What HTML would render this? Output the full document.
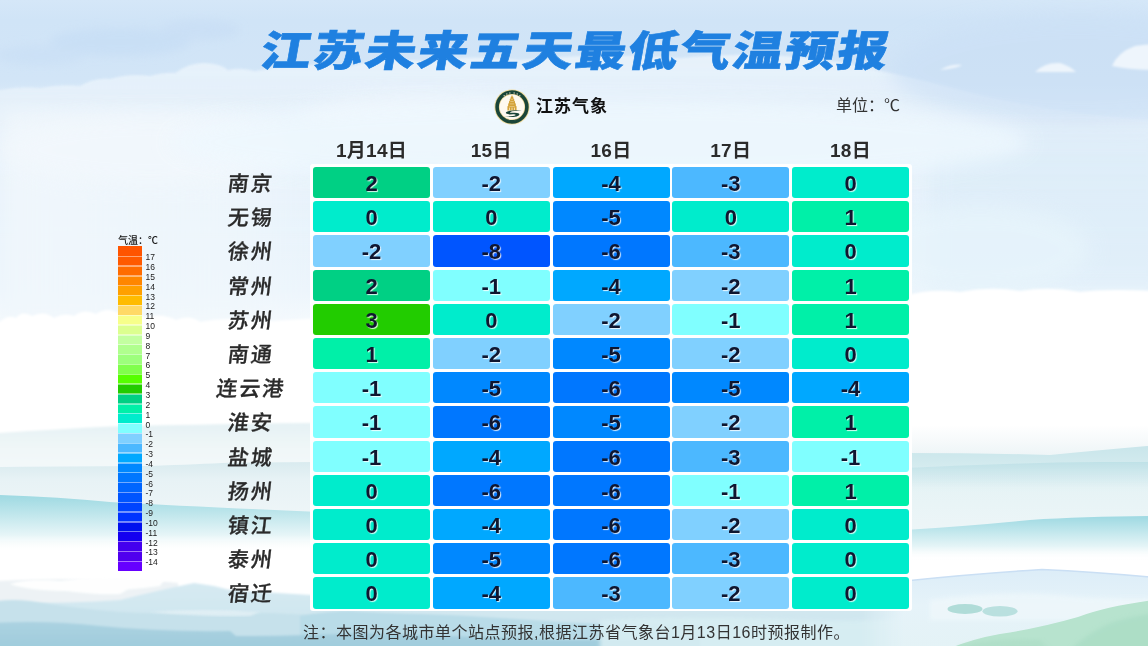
<!DOCTYPE html><html lang="zh"><head><meta charset="utf-8"><title>江苏未来五天最低气温预报</title><style>
*{margin:0;padding:0;box-sizing:border-box}
html,body{width:1148px;height:646px;overflow:hidden}
body{position:relative;font-family:"Liberation Sans","Noto Sans CJK SC",sans-serif;background:#e6f2fb}
#bg{position:absolute;left:0;top:0;width:1148px;height:646px}
.t{position:absolute;white-space:nowrap}
#title{left:260.5px;top:22px;font-family:"Liberation Sans","Noto Sans CJK SC",sans-serif;font-weight:900;font-size:42px;line-height:60px;color:#1f80e0;letter-spacing:1.7px;transform:skewX(-10deg) scaleX(1.2);transform-origin:0 50%;-webkit-text-stroke:0.6px #1f80e0}
#brand{left:536px;top:95px;font-family:"Liberation Sans","Noto Sans CJK SC",sans-serif;font-weight:700;font-size:17px;line-height:24px;color:#111;letter-spacing:1px}
#unit{left:836px;top:95px;font-family:"Liberation Sans","Noto Sans CJK SC",sans-serif;font-size:16px;line-height:22px;color:#333}
.hd{position:absolute;top:138px;width:117px;text-align:center;font-family:"Liberation Sans","Noto Sans CJK SC",sans-serif;font-weight:700;font-size:19px;line-height:26px;color:#2b2b2b;letter-spacing:0.3px}
.city{position:absolute;left:200px;width:100px;text-align:center;font-family:"Liberation Sans","Noto Sans CJK SC",sans-serif;font-weight:500;font-size:21px;line-height:31px;color:#2a2a2a;letter-spacing:2px;text-indent:2px;transform:skewX(-7deg);-webkit-text-stroke:0.3px #2a2a2a}
#panel{position:absolute;left:310px;top:164px;width:602px;height:447px;background:#fff;border-radius:3px}
.c{position:absolute;width:117px;height:31.3px;border-radius:3px;text-align:center;font-family:"Liberation Sans","Noto Sans CJK SC",sans-serif;font-weight:700;font-size:22px;line-height:34px;color:#0f1630;text-shadow:1px 1px 1px rgba(255,255,255,.85)}
.lb{position:absolute;left:118px;width:24px}
.ls{position:absolute;left:118px;width:24px;height:1.4px;background:rgba(255,255,255,.45)}
.ll{position:absolute;left:145.5px;font-family:"Liberation Sans","Noto Sans CJK SC",sans-serif;font-size:8.5px;line-height:10px;color:#222}
#legt{left:118px;top:233.5px;font-family:"Liberation Sans","Noto Sans CJK SC",sans-serif;font-size:10px;line-height:14px;color:#111;font-weight:500}
#note{left:303px;top:620.5px;font-family:"Liberation Sans","Noto Sans CJK SC",sans-serif;font-size:16px;line-height:24px;color:#333;letter-spacing:0.5px}
</style></head><body>
<div id="bg"><svg width="1148" height="646" viewBox="0 0 1148 646" style="position:absolute;left:0;top:0">
<defs>
<linearGradient id="sky" x1="0" y1="0" x2="0" y2="646" gradientUnits="userSpaceOnUse">
<stop offset="0.0000" stop-color="#d5e7f8"/>
<stop offset="0.0310" stop-color="#d0e4f7"/>
<stop offset="0.1238" stop-color="#d2e5f7"/>
<stop offset="0.1703" stop-color="#dcebf9"/>
<stop offset="0.2477" stop-color="#e2effa"/>
<stop offset="0.3560" stop-color="#e7f2fb"/>
<stop offset="0.4489" stop-color="#ecf5fc"/>
<stop offset="0.5108" stop-color="#f8fbfd"/>
<stop offset="0.5573" stop-color="#ffffff"/>
<stop offset="1.0000" stop-color="#ffffff"/>
</linearGradient>
<linearGradient id="cl1" x1="0" y1="0" x2="0" y2="1">
<stop offset="0" stop-color="#e8f2fb"/>
<stop offset="0.5" stop-color="#eaf3fb" stop-opacity="0.6"/>
<stop offset="1" stop-color="#eef6fc" stop-opacity="0"/>
</linearGradient>
<linearGradient id="leftL" x1="0" y1="0" x2="1" y2="0">
<stop offset="0" stop-color="#f0f7fc" stop-opacity="0.9"/>
<stop offset="0.7" stop-color="#f0f7fc" stop-opacity="0.7"/>
<stop offset="1" stop-color="#f0f7fc" stop-opacity="0"/>
</linearGradient>
<linearGradient id="tealA" x1="0" y1="0" x2="0" y2="1">
<stop offset="0" stop-color="#b9dfe5"/>
<stop offset="0.35" stop-color="#cde8ec"/>
<stop offset="1" stop-color="#ffffff" stop-opacity="0"/>
</linearGradient>
<linearGradient id="tealB" x1="0" y1="0" x2="0" y2="1">
<stop offset="0" stop-color="#9ed9e2"/>
<stop offset="0.3" stop-color="#bce5eb"/>
<stop offset="0.7" stop-color="#e6f5f7"/>
<stop offset="1" stop-color="#ffffff" stop-opacity="0"/>
</linearGradient>
<linearGradient id="mistA" x1="0" y1="0" x2="0" y2="1">
<stop offset="0" stop-color="#e5f1f4"/>
<stop offset="0.5" stop-color="#f0f7f8"/>
<stop offset="1" stop-color="#f4f9fa"/>
</linearGradient>
<linearGradient id="mistB" x1="0" y1="0" x2="0" y2="1">
<stop offset="0" stop-color="#d9ebef"/>
<stop offset="0.3" stop-color="#e7f2f5"/>
<stop offset="1" stop-color="#eff6f8"/>
</linearGradient>
<linearGradient id="fadeG" x1="0" y1="0" x2="0" y2="1">
<stop offset="0" stop-color="#eef5f7" stop-opacity="0"/>
<stop offset="1" stop-color="#eef5f7"/>
</linearGradient>
<linearGradient id="band1" x1="0" y1="0" x2="0" y2="1">
<stop offset="0" stop-color="#c8e5ea"/>
<stop offset="0.2" stop-color="#d2eaee"/>
<stop offset="0.45" stop-color="#e6f3f5"/>
<stop offset="1" stop-color="#eef6f8"/>
</linearGradient>
<linearGradient id="band1b" x1="0" y1="0" x2="0" y2="1">
<stop offset="0" stop-color="#bfe1e7"/>
<stop offset="1" stop-color="#d8edf1" stop-opacity="0"/>
</linearGradient>
<linearGradient id="tealF" x1="0" y1="0" x2="0" y2="1">
<stop offset="0" stop-color="#d3e9ee"/>
<stop offset="1" stop-color="#ffffff" stop-opacity="0"/>
</linearGradient>
<linearGradient id="mtnL" x1="0" y1="0" x2="0" y2="1">
<stop offset="0" stop-color="#d6eaf2"/>
<stop offset="1" stop-color="#c8e2ec"/>
</linearGradient>
<linearGradient id="mtnD" x1="0" y1="0" x2="0" y2="1">
<stop offset="0" stop-color="#abd2e1"/>
<stop offset="1" stop-color="#9bc9da"/>
</linearGradient>
<linearGradient id="br" x1="0" y1="0" x2="0" y2="1">
<stop offset="0" stop-color="#dcedf8"/>
<stop offset="0.4" stop-color="#e6f3f9"/>
<stop offset="1" stop-color="#e3f2f5"/>
</linearGradient>
<filter id="b05" x="-10%" y="-10%" width="120%" height="120%"><feGaussianBlur stdDeviation="0.5"/></filter>
<filter id="b1" x="-10%" y="-10%" width="120%" height="120%"><feGaussianBlur stdDeviation="1"/></filter>
<filter id="b2" x="-10%" y="-10%" width="120%" height="120%"><feGaussianBlur stdDeviation="2"/></filter>
<filter id="b5" x="-20%" y="-20%" width="140%" height="140%"><feGaussianBlur stdDeviation="5"/></filter>
<filter id="b10" x="-20%" y="-50%" width="140%" height="200%"><feGaussianBlur stdDeviation="10"/></filter>
<linearGradient id="mRg" x1="860" y1="0" x2="905" y2="0" gradientUnits="userSpaceOnUse">
<stop offset="0" stop-color="#fff" stop-opacity="0"/>
<stop offset="1" stop-color="#fff" stop-opacity="1"/>
</linearGradient>
<mask id="mR" maskUnits="userSpaceOnUse" x="0" y="0" width="1200" height="700"><rect x="0" y="0" width="1200" height="700" fill="url(#mRg)"/></mask>
</defs>
<rect width="1148" height="646" fill="url(#sky)"/>
<!-- upper cloud layer (lighter) -->
<g filter="url(#b5)" opacity="0.55">
<ellipse cx="120" cy="42" rx="70" ry="14" fill="#c3dbf4"/>
<ellipse cx="40" cy="55" rx="45" ry="10" fill="#c8def5"/>
<ellipse cx="200" cy="30" rx="40" ry="10" fill="#c6dcf4"/>
</g>
<path d="M-20 92 L0 90 Q20 86 40 88 Q60 84 80 86 Q95 77 110 79 Q130 73 150 76 Q165 72 175 73 Q190 62 205 63 Q222 64 228 70 Q240 67 255 71 Q300 62 350 66 Q390 56 430 62 Q470 54 520 60 Q600 52 680 58 Q760 50 840 62 Q900 74 960 90 Q1040 112 1170 122 L1170 260 L-20 260Z" fill="url(#cl1)" filter="url(#b1)" opacity="0.95"/>
<ellipse cx="1080" cy="70" rx="190" ry="55" fill="#cadff5" opacity="0.6" filter="url(#b10)"/>
<rect x="930" y="130" width="240" height="160" fill="#d9ebf8" opacity="0.55" filter="url(#b10)"/>
<rect x="0" y="110" width="330" height="215" fill="url(#leftL)" filter="url(#b10)"/>
<g filter="url(#b10)" fill="#f3f8fd" opacity="0.7">
<ellipse cx="150" cy="150" rx="150" ry="35"/>
<ellipse cx="420" cy="120" rx="120" ry="25"/>
</g>
<ellipse cx="600" cy="142" rx="430" ry="42" fill="#eef8fe" opacity="0.85" filter="url(#b10)"/>
<ellipse cx="980" cy="250" rx="110" ry="45" fill="#e8f5fc" opacity="0.7" filter="url(#b10)"/>
<!-- small clouds top right -->
<g fill="#eef5fc" filter="url(#b1)">
<path d="M1035 72 Q1045 62 1060 63 Q1070 66 1076 72Z"/>
<path d="M1112 66 Q1118 52 1135 46 Q1145 44 1160 44 L1160 70 Q1130 70 1112 66Z"/>
<path d="M940 70 Q950 64 962 65 Q958 68 940 70Z"/>
</g>
<!-- white cloud band -->
<g fill="#ffffff" filter="url(#b1)">
<path d="M-20 322 L0 322 Q8 314 16 318 Q22 310 32 316 Q44 310 54 318 Q64 312 74 316 Q84 308 96 314 Q108 306 120 314 Q134 310 146 318 Q160 312 176 320 Q190 314 200 322 Q230 316 260 322 L320 318 L320 430 L-20 430Z"/>
<path d="M905 296 Q930 288 960 292 Q990 286 1020 291 Q1050 286 1080 292 Q1110 288 1170 292 L1170 440 L905 440Z"/>
</g>
<!-- left mist bands -->
<path d="M-20 433 L0 433 Q60 429 110 426.5 Q200 424 320 423 L320 475 L-20 475Z" fill="url(#mistA)" filter="url(#b1)"/>
<path d="M-20 467 L0 467 Q100 466 150 466 Q200 464 230 462.7 L320 462 L320 520 L-20 520Z" fill="url(#mistB)" filter="url(#b05)"/>
<path d="M-20 495 L0 495 Q60 497 110 502 Q200 507 320 512 L320 552 L-20 552Z" fill="url(#tealB)" filter="url(#b05)"/>
<!-- right mist bands -->
<rect x="905" y="425" width="265" height="30" fill="url(#fadeG)"/>
<path d="M905 453 Q980 453 1050 455 Q1100 450 1170 444 L1170 540 L905 540Z" fill="url(#band1)" filter="url(#b05)"/>
<path d="M905 468 Q1000 463 1100 462 L1170 462 L1170 492 L905 492Z" fill="url(#band1b)" filter="url(#b05)"/>
<path d="M905 530 Q970 526 1030 520 Q1090 516 1170 516 L1170 560 L905 560Z" fill="url(#tealB)" filter="url(#b05)"/>
<!-- bottom left: cloud layer and mountains -->
<path d="M-20 582 Q40 578 100 580 Q140 579 178 583 L178 612 L-20 612Z" fill="#edf2f5" filter="url(#b1)"/>
<path d="M-20 603 Q60 604 120 600 Q160 590 194 583 Q212 585 228 589.6 Q270 593 310 595 Q420 598 560 602 Q700 606 905 602 L905 660 L-20 660Z" fill="url(#mtnL)" filter="url(#b1)"/>
<path d="M-20 604 Q5 598 30 601 Q70 608 120 612 Q170 615 230 613 Q260 612 290 614 L330 616 L330 660 L-20 660Z" fill="#c6e1eb" filter="url(#b1)"/>
<path d="M300 616 Q330 611 350 611 Q380 613 420 614 Q480 616 560 622 Q640 626 700 625 L700 660 L300 660Z" fill="#b9dce8" filter="url(#b1)"/>
<path d="M-20 624 Q40 619 100 626 Q160 632 230 631 L236 636 Q300 636 360 633 Q450 636 560 640 Q640 640 700 636 L700 660 L-20 660Z" fill="url(#mtnD)" filter="url(#b1)"/>
<path d="M600 620 Q700 615 800 620 Q860 622 905 618 L905 660 L600 660Z" fill="#d8eef3" filter="url(#b2)" opacity="0.9"/>
<!-- white cloud wisps over left mountains -->
<g fill="#ffffff" filter="url(#b1)" opacity="0.95">
<path d="M10 584 Q30 578 60 581 Q90 576 120 579 Q140 575 165 579 L160 586 Q120 592 70 591 Q30 591 10 584Z"/>
<path d="M60 590 Q90 586 130 588 L120 594 Q90 595 60 590Z"/>
</g>
<g fill="#e4f1f6" opacity="0.8" filter="url(#b1)">
<path d="M150 612 Q200 608 260 612 L250 616 Q200 617 150 612Z"/>
</g>
<g mask="url(#mR)">
<!-- bottom right light blue + green -->
<path d="M840 592 L905 581 Q970 574 1042 569.5 Q1100 572 1170 579 L1170 660 L840 660Z" fill="url(#br)" stroke="#cadff4" stroke-width="1.5" filter="url(#b05)"/>
<path d="M930 600 Q1000 590 1060 595 Q1100 600 1170 598 L1170 620 L930 620Z" fill="#f2f9fc" opacity="0.6" filter="url(#b2)"/>
<path d="M925 660 Q960 641 1000 634 Q1040 628 1078 617 Q1110 605 1170 598 L1170 660Z" fill="#b7e3ce" filter="url(#b05)"/>
<path d="M1060 660 Q1090 628 1120 620 Q1140 614 1170 612 L1170 660Z" fill="#a9dcc4" opacity="0.7" filter="url(#b2)"/>
<path d="M960 646 Q1000 638 1040 640 L1060 660 L950 660Z" fill="#a8dac2" opacity="0.5" filter="url(#b2)"/>
<ellipse cx="965" cy="609" rx="17.5" ry="5" fill="#b0dcd8"/>
<ellipse cx="1000" cy="611.3" rx="17.5" ry="5.3" fill="#b4dedb" opacity="0.9"/>
</g>
</svg>
</div>
<div class="t" id="title">江苏未来五天最低气温预报</div>
<svg style="position:absolute;left:494px;top:88.5px" width="36" height="36" viewBox="0 0 36 36">
<circle cx="18" cy="18" r="17.6" fill="#f1dc9e"/>
<circle cx="18" cy="18" r="16.7" fill="#1a4538"/>
<circle cx="18" cy="18" r="13.1" fill="#e6cd86"/>
<circle cx="18" cy="18" r="12.5" fill="#fffaf0"/>
<g transform="translate(18 0) scale(0.88 1) translate(-18 0)"><path fill="#d4a33a" d="M18 5.6 L18.6 7.6 L19.4 7.8 L19.6 9.6 L20.5 9.9 L20.6 11.9 L21.4 12.2 L21.5 14.3 L22.3 14.6 L22.4 16.9 L23.2 17.3 L23.2 21.6 L12.8 21.6 L12.8 17.3 L13.6 16.9 L13.7 14.6 L14.5 14.3 L14.6 12.2 L15.4 11.9 L15.5 9.9 L16.4 9.6 L16.6 7.8 L17.4 7.6Z"/>
<g fill="#fff3d6" opacity="0.75">
<rect x="16.6" y="9.9" width="2.8" height="0.5"/><rect x="16.1" y="12.3" width="3.8" height="0.5"/><rect x="15.6" y="14.7" width="4.8" height="0.5"/><rect x="15" y="17.3" width="6" height="0.5"/>
<rect x="14.6" y="18.6" width="1.1" height="3"/><rect x="17.45" y="18.6" width="1.1" height="3"/><rect x="20.3" y="18.6" width="1.1" height="3"/>
</g></g>
<path d="M28 21.6 Q22 20.6 16 21.8 Q10.5 23 12.3 24.6 Q14 25.8 19 25.3 Q22.3 25.1 21.4 26.3 Q19.5 27.5 10.5 27.6 Q17 28.6 22.6 27.4 Q26.6 26.3 24.9 24.6 Q23.1 23.4 18.5 23.8 Q15.3 24.1 16.4 23 Q19 21.8 28 21.6Z" fill="#1a4538"/>
<g fill="#e8e0c8" opacity="0.85">
<circle cx="10.2" cy="6.8" r="0.75"/><circle cx="12.8" cy="4.9" r="0.75"/><circle cx="15.9" cy="3.9" r="0.75"/><circle cx="20.1" cy="3.9" r="0.75"/><circle cx="23.2" cy="4.9" r="0.75"/><circle cx="25.8" cy="6.8" r="0.75"/>
</g>
<g fill="#7f9a8c" opacity="0.6">
<circle cx="6" cy="22" r="0.4"/><circle cx="7.5" cy="25" r="0.4"/><circle cx="9.5" cy="27.8" r="0.4"/><circle cx="12" cy="30" r="0.4"/><circle cx="15" cy="31.3" r="0.4"/><circle cx="21" cy="31.3" r="0.4"/><circle cx="24" cy="30" r="0.4"/><circle cx="26.5" cy="27.8" r="0.4"/><circle cx="28.5" cy="25" r="0.4"/><circle cx="30" cy="22" r="0.4"/>
</g>
</svg>

<div class="t" id="brand">江苏气象</div>
<div class="t" id="unit">单位：℃</div>
<div class="hd" style="left:313.00px">1月14日</div>
<div class="hd" style="left:432.75px">15日</div>
<div class="hd" style="left:552.50px">16日</div>
<div class="hd" style="left:672.25px">17日</div>
<div class="hd" style="left:792.00px">18日</div>
<div id="panel"></div>
<div class="city" style="top:168.00px">南京</div>
<div class="c" style="left:313.00px;top:167.00px;background:#00d084">2</div>
<div class="c" style="left:432.75px;top:167.00px;background:#80d0ff">-2</div>
<div class="c" style="left:552.50px;top:167.00px;background:#00a8ff">-4</div>
<div class="c" style="left:672.25px;top:167.00px;background:#4cb8ff">-3</div>
<div class="c" style="left:792.00px;top:167.00px;background:#00eccc">0</div>
<div class="city" style="top:202.20px">无锡</div>
<div class="c" style="left:313.00px;top:201.20px;background:#00eccc">0</div>
<div class="c" style="left:432.75px;top:201.20px;background:#00eccc">0</div>
<div class="c" style="left:552.50px;top:201.20px;background:#0088ff">-5</div>
<div class="c" style="left:672.25px;top:201.20px;background:#00eccc">0</div>
<div class="c" style="left:792.00px;top:201.20px;background:#00f0a8">1</div>
<div class="city" style="top:236.40px">徐州</div>
<div class="c" style="left:313.00px;top:235.40px;background:#80d0ff">-2</div>
<div class="c" style="left:432.75px;top:235.40px;background:#0055ff">-8</div>
<div class="c" style="left:552.50px;top:235.40px;background:#0077ff">-6</div>
<div class="c" style="left:672.25px;top:235.40px;background:#4cb8ff">-3</div>
<div class="c" style="left:792.00px;top:235.40px;background:#00eccc">0</div>
<div class="city" style="top:270.60px">常州</div>
<div class="c" style="left:313.00px;top:269.60px;background:#00d084">2</div>
<div class="c" style="left:432.75px;top:269.60px;background:#80ffff">-1</div>
<div class="c" style="left:552.50px;top:269.60px;background:#00a8ff">-4</div>
<div class="c" style="left:672.25px;top:269.60px;background:#80d0ff">-2</div>
<div class="c" style="left:792.00px;top:269.60px;background:#00f0a8">1</div>
<div class="city" style="top:304.80px">苏州</div>
<div class="c" style="left:313.00px;top:303.80px;background:#22cc00">3</div>
<div class="c" style="left:432.75px;top:303.80px;background:#00eccc">0</div>
<div class="c" style="left:552.50px;top:303.80px;background:#80d0ff">-2</div>
<div class="c" style="left:672.25px;top:303.80px;background:#80ffff">-1</div>
<div class="c" style="left:792.00px;top:303.80px;background:#00f0a8">1</div>
<div class="city" style="top:339.00px">南通</div>
<div class="c" style="left:313.00px;top:338.00px;background:#00f0a8">1</div>
<div class="c" style="left:432.75px;top:338.00px;background:#80d0ff">-2</div>
<div class="c" style="left:552.50px;top:338.00px;background:#0088ff">-5</div>
<div class="c" style="left:672.25px;top:338.00px;background:#80d0ff">-2</div>
<div class="c" style="left:792.00px;top:338.00px;background:#00eccc">0</div>
<div class="city" style="top:373.20px">连云港</div>
<div class="c" style="left:313.00px;top:372.20px;background:#80ffff">-1</div>
<div class="c" style="left:432.75px;top:372.20px;background:#0088ff">-5</div>
<div class="c" style="left:552.50px;top:372.20px;background:#0077ff">-6</div>
<div class="c" style="left:672.25px;top:372.20px;background:#0088ff">-5</div>
<div class="c" style="left:792.00px;top:372.20px;background:#00a8ff">-4</div>
<div class="city" style="top:407.40px">淮安</div>
<div class="c" style="left:313.00px;top:406.40px;background:#80ffff">-1</div>
<div class="c" style="left:432.75px;top:406.40px;background:#0077ff">-6</div>
<div class="c" style="left:552.50px;top:406.40px;background:#0088ff">-5</div>
<div class="c" style="left:672.25px;top:406.40px;background:#80d0ff">-2</div>
<div class="c" style="left:792.00px;top:406.40px;background:#00f0a8">1</div>
<div class="city" style="top:441.60px">盐城</div>
<div class="c" style="left:313.00px;top:440.60px;background:#80ffff">-1</div>
<div class="c" style="left:432.75px;top:440.60px;background:#00a8ff">-4</div>
<div class="c" style="left:552.50px;top:440.60px;background:#0077ff">-6</div>
<div class="c" style="left:672.25px;top:440.60px;background:#4cb8ff">-3</div>
<div class="c" style="left:792.00px;top:440.60px;background:#80ffff">-1</div>
<div class="city" style="top:475.80px">扬州</div>
<div class="c" style="left:313.00px;top:474.80px;background:#00eccc">0</div>
<div class="c" style="left:432.75px;top:474.80px;background:#0077ff">-6</div>
<div class="c" style="left:552.50px;top:474.80px;background:#0077ff">-6</div>
<div class="c" style="left:672.25px;top:474.80px;background:#80ffff">-1</div>
<div class="c" style="left:792.00px;top:474.80px;background:#00f0a8">1</div>
<div class="city" style="top:510.00px">镇江</div>
<div class="c" style="left:313.00px;top:509.00px;background:#00eccc">0</div>
<div class="c" style="left:432.75px;top:509.00px;background:#00a8ff">-4</div>
<div class="c" style="left:552.50px;top:509.00px;background:#0077ff">-6</div>
<div class="c" style="left:672.25px;top:509.00px;background:#80d0ff">-2</div>
<div class="c" style="left:792.00px;top:509.00px;background:#00eccc">0</div>
<div class="city" style="top:544.20px">泰州</div>
<div class="c" style="left:313.00px;top:543.20px;background:#00eccc">0</div>
<div class="c" style="left:432.75px;top:543.20px;background:#0088ff">-5</div>
<div class="c" style="left:552.50px;top:543.20px;background:#0077ff">-6</div>
<div class="c" style="left:672.25px;top:543.20px;background:#4cb8ff">-3</div>
<div class="c" style="left:792.00px;top:543.20px;background:#00eccc">0</div>
<div class="city" style="top:578.40px">宿迁</div>
<div class="c" style="left:313.00px;top:577.40px;background:#00eccc">0</div>
<div class="c" style="left:432.75px;top:577.40px;background:#00a8ff">-4</div>
<div class="c" style="left:552.50px;top:577.40px;background:#4cb8ff">-3</div>
<div class="c" style="left:672.25px;top:577.40px;background:#80d0ff">-2</div>
<div class="c" style="left:792.00px;top:577.40px;background:#00eccc">0</div>
<div class="t" id="legt">气温：℃</div>
<div class="lb" style="top:246.20px;height:10.14px;background:#ff5400"></div>
<div class="lb" style="top:256.04px;height:10.14px;background:#ff5a00"></div>
<div class="lb" style="top:265.88px;height:10.14px;background:#ff6c00"></div>
<div class="lb" style="top:275.72px;height:10.14px;background:#ff8600"></div>
<div class="lb" style="top:285.56px;height:10.14px;background:#ffa000"></div>
<div class="lb" style="top:295.40px;height:10.14px;background:#ffbb00"></div>
<div class="lb" style="top:305.24px;height:10.14px;background:#ffd966"></div>
<div class="lb" style="top:315.08px;height:10.14px;background:#f7ff8a"></div>
<div class="lb" style="top:324.92px;height:10.14px;background:#dcff8f"></div>
<div class="lb" style="top:334.76px;height:10.14px;background:#c3ffa0"></div>
<div class="lb" style="top:344.60px;height:10.14px;background:#b0ff8e"></div>
<div class="lb" style="top:354.44px;height:10.14px;background:#9dff7c"></div>
<div class="lb" style="top:364.28px;height:10.14px;background:#80ff4c"></div>
<div class="lb" style="top:374.12px;height:10.14px;background:#55ff00"></div>
<div class="lb" style="top:383.96px;height:10.14px;background:#22cc00"></div>
<div class="lb" style="top:393.80px;height:10.14px;background:#00d084"></div>
<div class="lb" style="top:403.64px;height:10.14px;background:#00f0a8"></div>
<div class="lb" style="top:413.48px;height:10.14px;background:#00eccc"></div>
<div class="lb" style="top:423.32px;height:10.14px;background:#80ffff"></div>
<div class="lb" style="top:433.16px;height:10.14px;background:#80d0ff"></div>
<div class="lb" style="top:443.00px;height:10.14px;background:#4cb8ff"></div>
<div class="lb" style="top:452.84px;height:10.14px;background:#00a8ff"></div>
<div class="lb" style="top:462.68px;height:10.14px;background:#0088ff"></div>
<div class="lb" style="top:472.52px;height:10.14px;background:#0077ff"></div>
<div class="lb" style="top:482.36px;height:10.14px;background:#0066ff"></div>
<div class="lb" style="top:492.20px;height:10.14px;background:#0055ff"></div>
<div class="lb" style="top:502.04px;height:10.14px;background:#0044ff"></div>
<div class="lb" style="top:511.88px;height:10.14px;background:#0033ff"></div>
<div class="lb" style="top:521.72px;height:10.14px;background:#0011ee"></div>
<div class="lb" style="top:531.56px;height:10.14px;background:#1400f0"></div>
<div class="lb" style="top:541.40px;height:10.14px;background:#4400ee"></div>
<div class="lb" style="top:551.24px;height:10.14px;background:#5000ee"></div>
<div class="lb" style="top:561.08px;height:10.14px;background:#6600ff"></div>
<div class="ls" style="top:255.54px"></div>
<div class="ll" style="top:252.24px">17</div>
<div class="ls" style="top:265.38px"></div>
<div class="ll" style="top:262.08px">16</div>
<div class="ls" style="top:275.22px"></div>
<div class="ll" style="top:271.92px">15</div>
<div class="ls" style="top:285.06px"></div>
<div class="ll" style="top:281.76px">14</div>
<div class="ls" style="top:294.90px"></div>
<div class="ll" style="top:291.60px">13</div>
<div class="ls" style="top:304.74px"></div>
<div class="ll" style="top:301.44px">12</div>
<div class="ls" style="top:314.58px"></div>
<div class="ll" style="top:311.28px">11</div>
<div class="ls" style="top:324.42px"></div>
<div class="ll" style="top:321.12px">10</div>
<div class="ls" style="top:334.26px"></div>
<div class="ll" style="top:330.96px">9</div>
<div class="ls" style="top:344.10px"></div>
<div class="ll" style="top:340.80px">8</div>
<div class="ls" style="top:353.94px"></div>
<div class="ll" style="top:350.64px">7</div>
<div class="ls" style="top:363.78px"></div>
<div class="ll" style="top:360.48px">6</div>
<div class="ls" style="top:373.62px"></div>
<div class="ll" style="top:370.32px">5</div>
<div class="ls" style="top:383.46px"></div>
<div class="ll" style="top:380.16px">4</div>
<div class="ls" style="top:393.30px"></div>
<div class="ll" style="top:390.00px">3</div>
<div class="ls" style="top:403.14px"></div>
<div class="ll" style="top:399.84px">2</div>
<div class="ls" style="top:412.98px"></div>
<div class="ll" style="top:409.68px">1</div>
<div class="ls" style="top:422.82px"></div>
<div class="ll" style="top:419.52px">0</div>
<div class="ls" style="top:432.66px"></div>
<div class="ll" style="top:429.36px">-1</div>
<div class="ls" style="top:442.50px"></div>
<div class="ll" style="top:439.20px">-2</div>
<div class="ls" style="top:452.34px"></div>
<div class="ll" style="top:449.04px">-3</div>
<div class="ls" style="top:462.18px"></div>
<div class="ll" style="top:458.88px">-4</div>
<div class="ls" style="top:472.02px"></div>
<div class="ll" style="top:468.72px">-5</div>
<div class="ls" style="top:481.86px"></div>
<div class="ll" style="top:478.56px">-6</div>
<div class="ls" style="top:491.70px"></div>
<div class="ll" style="top:488.40px">-7</div>
<div class="ls" style="top:501.54px"></div>
<div class="ll" style="top:498.24px">-8</div>
<div class="ls" style="top:511.38px"></div>
<div class="ll" style="top:508.08px">-9</div>
<div class="ls" style="top:521.22px"></div>
<div class="ll" style="top:517.92px">-10</div>
<div class="ls" style="top:531.06px"></div>
<div class="ll" style="top:527.76px">-11</div>
<div class="ls" style="top:540.90px"></div>
<div class="ll" style="top:537.60px">-12</div>
<div class="ls" style="top:550.74px"></div>
<div class="ll" style="top:547.44px">-13</div>
<div class="ls" style="top:560.58px"></div>
<div class="ll" style="top:557.28px">-14</div>
<div class="t" id="note">注：本图为各城市单个站点预报,根据江苏省气象台1月13日16时预报制作。</div>
</body></html>
